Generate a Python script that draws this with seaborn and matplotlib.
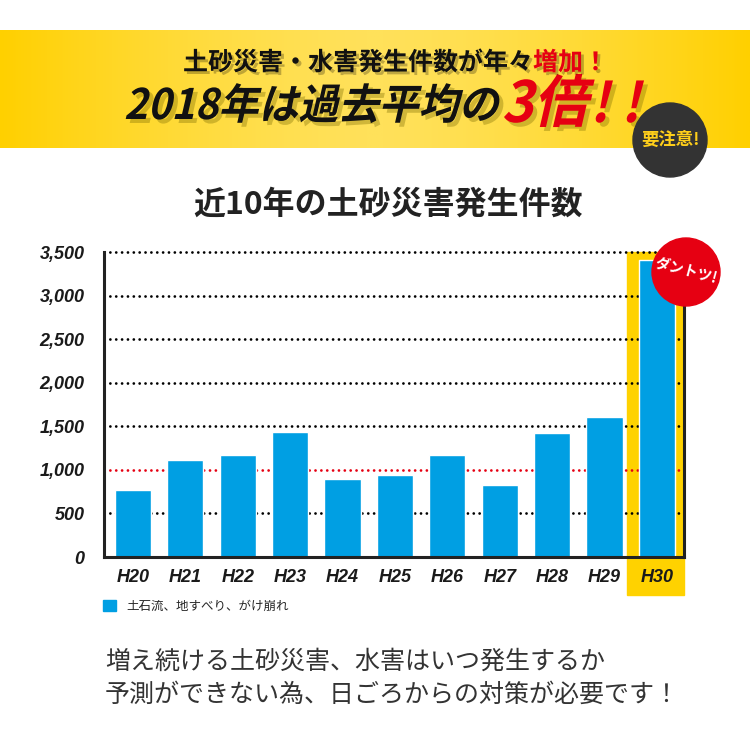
import numpy as np
import seaborn as sns
import matplotlib.pyplot as plt
from matplotlib.patches import Rectangle, Circle, Patch, PathPatch
from matplotlib.textpath import TextPath
from matplotlib.font_manager import FontProperties
from matplotlib.transforms import Affine2D, blended_transform_factory
from matplotlib.colors import LinearSegmentedColormap
import matplotlib.patheffects as pe

# データ
years = ['H20', 'H21', 'H22', 'H23', 'H24', 'H25', 'H26', 'H27', 'H28', 'H29', 'H30']
counts = [770, 1110, 1170, 1435, 895, 940, 1170, 825, 1425, 1610, 3410]
y_ticks = [0, 500, 1000, 1500, 2000, 2500, 3000, 3500]
y_labels = ['0', '500', '1,000', '1,500', '2,000', '2,500', '3,000', '3,500']
legend_label = '土石流、地すべり、がけ崩れ'

BLUE = '#009FE3'
YELLOW = '#FFD200'
RED = '#E60012'

sns.set_theme(style='white')
plt.rcParams['font.family'] = ['Noto Sans CJK JP', 'DejaVu Sans']

fig = plt.figure(figsize=(7.5, 7.5), dpi=100)
fig.patch.set_facecolor('white')

# 背景（ヘッダーの黄色い帯）
bg = fig.add_axes([0, 0, 1, 1], zorder=0)
bg.set_xlim(0, 750)
bg.set_ylim(0, 750)
bg.axis('off')
grad = 1 - np.abs(np.linspace(-1, 1, 400)) ** 1.5
cmap = LinearSegmentedColormap.from_list('band', ['#FFD000', '#FFE15A'])
bg.imshow(grad[np.newaxis, :], extent=(0, 750, 750 - 148, 750 - 30), cmap=cmap,
          aspect='auto', zorder=0)

# ヘッダー1行目
shadow = [pe.withSimplePatchShadow(offset=(2, -2), shadow_rgbFace='black', alpha=0.25)]
fig.text(183 / 750, 1 - 63 / 750, '土砂災害・水害発生件数が年々', fontsize=18,
         fontweight='bold', color='#111111', ha='left', va='center', path_effects=shadow)
fig.text(533 / 750, 1 - 63 / 750, '増加！', fontsize=18, fontweight='bold',
         color=RED, ha='left', va='center', path_effects=shadow)


# ヘッダー2行目（斜体風）
def skew_text(s, x, y, size, color):
    prop = FontProperties(family='Noto Sans CJK JP', weight='bold')
    tp = TextPath((0, 0), s, size=size, prop=prop)
    base = Affine2D().scale(1, 1.05).skew_deg(13, 0)
    sh = base.frozen().translate(x + 4, y - 4)
    bg.add_patch(PathPatch(sh.transform_path(tp), color='#7a6a00', alpha=0.35, lw=0, zorder=2))
    bg.add_patch(PathPatch(base.frozen().translate(x, y).transform_path(tp), color=color,
                           lw=0, zorder=3))
    return x + tp.get_extents().x1


x_end = skew_text('2018年は過去平均の', 124, 750 - 119, 40, '#111111')
x_end = skew_text('3倍', x_end + 6, 750 - 122, 54, RED)
skew_text('! !', x_end + 4, 750 - 122, 52, RED)

# タイトル
fig.text(388 / 750, 1 - 205 / 750, '近10年の土砂災害発生件数', fontsize=23,
         fontweight='bold', color='#222222', ha='center', va='center')

# メインのグラフ
ax = fig.add_axes([104 / 750, 1 - 557 / 750, 580 / 750, 305 / 750], zorder=2)
ax.patch.set_alpha(0)
sns.barplot(x=years, y=counts, color=BLUE, saturation=1, width=0.69, ax=ax, zorder=3)
ax.set_xlim(-0.553, 10.516)
ax.set_ylim(0, 3500)

# H30 の強調
ax.add_patch(Rectangle((9.43, -0.125), 10.516 - 9.43, 1.125,
                       transform=blended_transform_factory(ax.transData, ax.transAxes),
                       color=YELLOW, clip_on=False, zorder=0.2))

for t in y_ticks[1:]:
    ax.axhline(t, color=RED if t == 1000 else 'black', lw=2.0, ls=(0, (0.01, 2.1)),
               dash_capstyle='round', zorder=2, clip_on=False)

for side in ['left', 'bottom', 'right']:
    ax.spines[side].set_visible(True)
    ax.spines[side].set_color('#222222')
    ax.spines[side].set_linewidth(2.2)
    ax.spines[side].set_zorder(4)
ax.spines['top'].set_visible(False)

ax.set_yticks(y_ticks, y_labels)
ax.tick_params(axis='y', length=0, pad=14)
ax.tick_params(axis='x', length=0, pad=9)
ax.set_xlabel('')
ax.set_ylabel('')
tick_font = FontProperties(family='Liberation Sans', style='italic', weight='bold', size=13)
for lbl in ax.get_xticklabels() + ax.get_yticklabels():
    lbl.set_fontproperties(tick_font)
    lbl.set_color('#1a1a1a')

ax.legend(handles=[Patch(color=BLUE, label=legend_label)], loc='center left',
          bbox_to_anchor=(103 / 750, 1 - 606 / 750), bbox_transform=fig.transFigure,
          frameon=False, fontsize=9, handlelength=1.0, handleheight=1.0,
          handletextpad=0.9, borderpad=0, borderaxespad=0)

# 丸いバッジ
ov = fig.add_axes([0, 0, 1, 1], zorder=5)
ov.set_xlim(0, 750)
ov.set_ylim(0, 750)
ov.axis('off')
ov.add_patch(Circle((670, 750 - 140), 37, color='#333333'))
ov.text(670, 750 - 140, '要注意!', color='#FFCF1A', fontsize=12.5, fontweight='bold',
        ha='center', va='center')
ov.add_patch(Circle((686, 750 - 272), 34, color=RED))
ov.text(686, 750 - 271, 'ダントツ!', color='white', fontsize=10.5, fontweight='bold',
        ha='center', va='center', rotation=-15)

# 下部の文章
fig.text(105 / 750, 1 - 662 / 750, '増え続ける土砂災害、水害はいつ発生するか',
         fontsize=18, color='#333333', ha='left', va='center')
fig.text(105 / 750, 1 - 695 / 750, '予測ができない為、日ごろからの対策が必要です！',
         fontsize=18, color='#333333', ha='left', va='center')

fig.savefig('out.png', dpi=100)
